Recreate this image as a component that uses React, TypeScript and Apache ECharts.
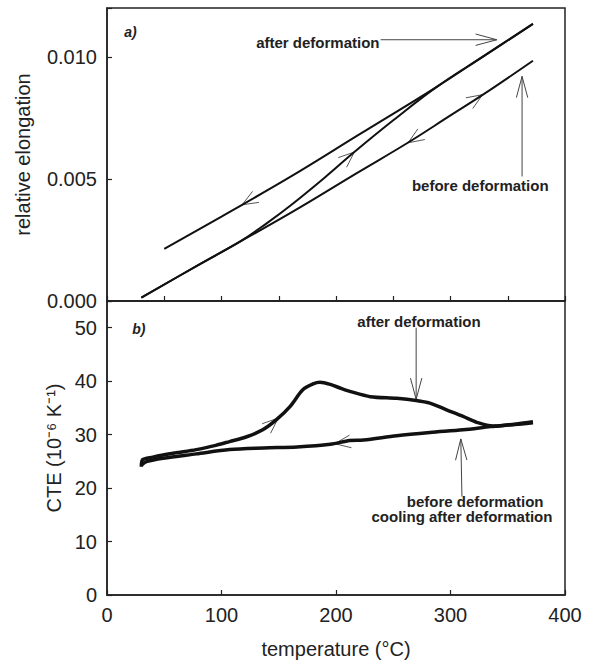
import React, { useEffect, useRef } from "react";
import * as echarts from "echarts";

// ---- Data: panel a) relative elongation vs temperature ----
const beforeDefT = [30, 80, 160, 220, 262, 300, 329, 372];
const beforeDefE = [0.000135, 0.00148, 0.0036, 0.00529, 0.00646, 0.0076, 0.00847, 0.00984];

const heatAfterT = [30, 80, 116, 140, 160, 190, 216, 250, 288, 330, 372];
const heatAfterE = [0.000135, 0.00148, 0.00243, 0.0032, 0.0039, 0.00505, 0.0061, 0.0074, 0.00877, 0.01006, 0.01135];

const coolAfterT = [50, 100, 160, 220, 288, 330, 372];
const coolAfterE = [0.00213, 0.00346, 0.00508, 0.00681, 0.00877, 0.01006, 0.01135];

// ---- Data: panel b) CTE vs temperature ----
const cteHeatT = [30, 31, 40, 49, 60, 78, 95, 107, 122, 136, 148, 160, 171, 180, 186, 195, 205, 212, 230, 253, 270, 282, 297, 311, 323, 337, 350, 362, 372];
const cteHeatV = [24.0, 25.3, 25.8, 26.2, 26.6, 27.2, 28.0, 28.7, 29.6, 30.9, 32.8, 35.3, 38.4, 39.5, 39.8, 39.4, 38.6, 38.1, 37.1, 36.8, 36.4, 35.9, 34.6, 33.4, 32.3, 31.6, 31.8, 32.0, 32.2];

const cteCoolT = [372, 358, 335, 311, 282, 253, 224, 212, 195, 166, 137, 107, 78, 49, 35, 30];
const cteCoolV = [32.4, 32.0, 31.5, 30.9, 30.4, 29.8, 29.0, 28.9, 28.2, 27.7, 27.5, 27.2, 26.4, 25.6, 25.0, 24.3];

// ---- Axis ticks ----
const topYTicks = [0, 0.005, 0.01];
const botYTicks = [0, 10, 20, 30, 40, 50];

// ---- Annotations (data coordinates) ----
const curveArrows = [
  { grid: 0, tip: [118, 0.00394], back: [140, 0.00454] },
  { grid: 0, tip: [216, 0.0061], back: [196, 0.00528] },
  { grid: 0, tip: [263, 0.00648], back: [285, 0.00715] },
  { grid: 0, tip: [328, 0.00845], back: [308, 0.00785] },
  { grid: 1, tip: [149.5, 33.1], back: [140, 31.3] },
  { grid: 1, tip: [199, 28.3], back: [218, 28.9] },
];
const labelArrows = [
  { grid: 0, tail: [239, 0.0107], tip: [340.5, 0.0107] },
  { grid: 0, tail: [362.5, 0.0051], tip: [362.5, 0.0092] },
  { grid: 1, tail: [270, 50], tip: [270, 36.6] },
  { grid: 1, tail: [310, 18.4], tip: [309, 29.2] },
];
const labels = [
  { grid: 0, text: "a)", at: [15, 0.011], align: "left", italic: true },
  { grid: 0, text: "after deformation", at: [238, 0.01057], align: "right" },
  { grid: 0, text: "before deformation", at: [326, 0.00475], align: "center" },
  { grid: 1, text: "b)", at: [22, 49.8], align: "left", italic: true },
  { grid: 1, text: "after deformation", at: [272.5, 51.2], align: "center" },
  { grid: 1, text: "before deformation", at: [321.5, 17.5], align: "center" },
  { grid: 1, text: "cooling after deformation", at: [310, 14.6], align: "center" },
];

const FONT = '"Liberation Sans", Arial, Helvetica, sans-serif';
const zip = (a: number[], b: number[]) => a.map((v, i) => [v, b[i]]);

export default function App() {
  const ref = useRef<HTMLDivElement>(null);
  useEffect(() => {
    if (!ref.current) return;
    const chart = echarts.init(ref.current, null, { renderer: "svg" });
    const axisCommon = {
      type: "value" as const,
      axisLine: { show: true, lineStyle: { color: "#222", width: 1.5 } },
      axisTick: { show: true, inside: true, length: 5, lineStyle: { color: "#222", width: 1.2 } },
      splitLine: { show: false },
      axisLabel: { color: "#222", fontSize: 20, fontFamily: FONT, margin: 10 },
    };
    const option: any = {
      animation: false,
      backgroundColor: "#fff",
      grid: [
        { left: 107, top: 8, width: 458, height: 293, show: true, borderColor: "#222", borderWidth: 1.5 },
        { left: 107, top: 301, width: 458, height: 294, show: true, borderColor: "#222", borderWidth: 1.5 },
      ],
      xAxis: [
        { ...axisCommon, gridIndex: 0, min: 0, max: 400, interval: 50, axisLabel: { show: false } },
        {
          ...axisCommon, gridIndex: 1, min: 0, max: 400, interval: 100,
          name: "temperature (°C)", nameLocation: "middle", nameGap: 44,
          nameTextStyle: { color: "#222", fontSize: 20, fontFamily: FONT },
        },
      ],
      yAxis: [
        {
          ...axisCommon, gridIndex: 0, min: 0, max: 0.012, interval: 0.005,
          axisLabel: {
            ...axisCommon.axisLabel,
            formatter: (v: number) => (topYTicks.some((t) => Math.abs(t - v) < 1e-9) ? v.toFixed(3) : ""),
          },
          name: "relative elongation", nameLocation: "middle", nameGap: 74, nameRotate: 90,
          nameTextStyle: { color: "#222", fontSize: 20, fontFamily: FONT },
        },
        {
          ...axisCommon, gridIndex: 1, min: 0, max: 55, interval: 10,
          axisLabel: {
            ...axisCommon.axisLabel,
            formatter: (v: number) => (botYTicks.includes(v) ? String(v) : ""),
          },
          name: "CTE (10⁻⁶ K⁻¹)", nameLocation: "middle", nameGap: 42, nameRotate: 90,
          nameTextStyle: { color: "#222", fontSize: 20, fontFamily: FONT },
        },
      ],
      series: [
        { type: "line", xAxisIndex: 0, yAxisIndex: 0, data: zip(beforeDefT, beforeDefE), showSymbol: false, smooth: 0.4, lineStyle: { color: "#111", width: 2 } },
        { type: "line", xAxisIndex: 0, yAxisIndex: 0, data: zip(heatAfterT, heatAfterE), showSymbol: false, smooth: 0.4, lineStyle: { color: "#111", width: 2 } },
        { type: "line", xAxisIndex: 0, yAxisIndex: 0, data: zip(coolAfterT, coolAfterE), showSymbol: false, smooth: 0.4, lineStyle: { color: "#111", width: 2 } },
        { type: "line", xAxisIndex: 1, yAxisIndex: 1, data: zip(cteHeatT, cteHeatV), showSymbol: false, smooth: 0.3, lineStyle: { color: "#111", width: 3.5 } },
        { type: "line", xAxisIndex: 1, yAxisIndex: 1, data: zip(cteCoolT, cteCoolV), showSymbol: false, smooth: 0.3, lineStyle: { color: "#111", width: 3.5 } },
      ],
    };
    chart.setOption(option);

    const px = (g: number, p: number[]) => chart.convertToPixel({ gridIndex: g } as any, p) as number[];
    const head = (tip: number[], back: number[], L: number, ang: number) => {
      const dx = back[0] - tip[0], dy = back[1] - tip[1];
      const n = Math.hypot(dx, dy) || 1;
      const ux = dx / n, uy = dy / n;
      const r = (a: number) => [tip[0] + L * (ux * Math.cos(a) - uy * Math.sin(a)), tip[1] + L * (ux * Math.sin(a) + uy * Math.cos(a))];
      return [r(ang), tip, r(-ang)];
    };
    const elements: any[] = [];
    curveArrows.forEach((a) => {
      const t = px(a.grid, a.tip), b = px(a.grid, a.back);
      elements.push({ type: "polyline", shape: { points: head(t, b, 17, (22 * Math.PI) / 180) }, style: { stroke: "#444", lineWidth: 0.9, fill: null } });
    });
    labelArrows.forEach((a) => {
      const t = px(a.grid, a.tip), b = px(a.grid, a.tail);
      elements.push({ type: "line", shape: { x1: b[0], y1: b[1], x2: t[0], y2: t[1] }, style: { stroke: "#444", lineWidth: 1 } });
      elements.push({ type: "polyline", shape: { points: head(t, b, 22, (15 * Math.PI) / 180) }, style: { stroke: "#444", lineWidth: 1, fill: null } });
    });
    labels.forEach((l) => {
      const p = px(l.grid, l.at);
      elements.push({
        type: "text", x: p[0], y: p[1],
        style: {
          text: l.text, fill: "#222", fontSize: l.italic ? 14 : 15, fontWeight: "bold",
          fontStyle: l.italic ? "italic" : "normal", fontFamily: FONT,
          align: l.align, textAlign: l.align, verticalAlign: "middle", textVerticalAlign: "middle",
        },
      });
    });
    chart.setOption({ graphic: { elements } });
    return () => chart.dispose();
  }, []);
  return <div ref={ref} style={{ position: "absolute", left: 0, top: 0, width: 590, height: 666 }} />;
}
